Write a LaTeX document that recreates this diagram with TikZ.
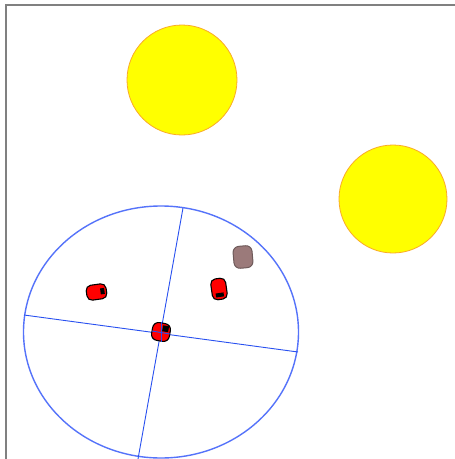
\documentclass[tikz,border=0pt]{standalone}
\definecolor{plateblue}{RGB}{85,115,250}
\definecolor{axisblue}{RGB}{40,80,240}
\definecolor{sunyellow}{RGB}{255,255,0}
\definecolor{sunedge}{RGB}{250,170,40}
\definecolor{rockfill}{RGB}{155,122,122}
\definecolor{rockedge}{RGB}{110,90,90}
\begin{document}
\begin{tikzpicture}[x=1pt,y=-1pt,
  sun/.style={circle,fill=sunyellow,draw=sunedge,line width=0.8pt,minimum size=#1pt,inner sep=0pt},
  blob/.style={rounded corners=5pt,fill=red,draw=black,line width=1.1pt},
  plate/.style={draw=plateblue,line width=1.4pt},
  axisline/.style={draw=axisblue,line width=0.9pt}]
\useasboundingbox (0,0) rectangle (455,459);
\fill[white] (0,0) rectangle (455,459);
\draw[gray,line width=1.4pt] (6,470) -- (6,5) -- (470,5);
\node[sun=110] (s1) at (182,80) {};
\node[sun=108] (s2) at (393,199) {};
\begin{scope}
\clip (0,0) rectangle (455,459);
\draw[plate] (161,332) ellipse [x radius=137.5, y radius=126];
\coordinate (c) at (161,333);
\coordinate (h1) at (24,315);
\coordinate (h2) at (298,352);
\coordinate (v1) at (183,208);
\coordinate (v2) at (138,459);
\draw[axisline] (h1) -- (h2);
\draw[axisline] (v1) -- (v2);
\end{scope}
% blobs
\begin{scope}[shift={(96.5,292)},rotate=8]
\draw[blob] (-10,-7.5) rectangle (10,7.5);
\fill[black] (4,-3) rectangle (8,3);
\end{scope}
\begin{scope}[shift={(219,289)},rotate=8]
\draw[blob] (-7.5,-10.5) rectangle (7.5,10.5);
\fill[black] (-4,4) rectangle (4,8);
\end{scope}
\begin{scope}[shift={(161,332)},rotate=-10]
\draw[blob,rounded corners=6pt] (-9,-9) rectangle (9,9);
\fill[black] (1,-7) rectangle (7,-1);
\end{scope}
\draw[axisline] (161,322) -- (161,342);
\draw[axisline] (152,331) -- (170,334);
\begin{scope}[shift={(243,257)},rotate=5]
\draw[rounded corners=6pt,fill=rockfill,draw=rockedge,line width=1pt] (-9.5,-11) rectangle (9.5,11);
\end{scope}
\end{tikzpicture}
\end{document}
